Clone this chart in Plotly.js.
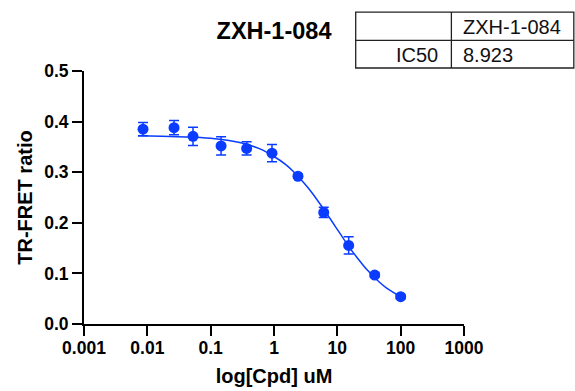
<!DOCTYPE html>
<html>
<head>
<meta charset="utf-8">
<script src="https://cdn.plot.ly/plotly-3.0.1.min.js"></script>
<style>
  html, body { margin: 0; padding: 0; background: #fff; }
  #chart { width: 575px; height: 391px; }
</style>
</head>
<body>
<div id="chart"></div>
<script>
// ---- data ----
const compoundName = "ZXH-1-084";
const concentration = [0.00855, 0.0264, 0.0526, 0.146, 0.37, 0.93, 2.39, 6.1, 15.1, 38.9, 100];
const ratioMean = [0.385, 0.388, 0.371, 0.352, 0.347, 0.3375, 0.292, 0.2205, 0.1553, 0.0967, 0.0539];
const ratioErr = [0.013, 0.014, 0.018, 0.018, 0.013, 0.017, 0.004, 0.010, 0.017, 0.004, 0.004];
const fitX = [0.0071, 0.03, 0.1, 0.3, 0.6, 1, 1.5, 2, 3, 4, 6, 8, 11, 15, 20, 30, 45, 60, 100];
const fitY = [0.372, 0.370, 0.367, 0.358, 0.346, 0.331, 0.316, 0.302, 0.278, 0.259, 0.228, 0.205, 0.179, 0.154, 0.133, 0.106, 0.084, 0.071, 0.054];
const xTickVals = [0.001, 0.01, 0.1, 1, 10, 100, 1000];
const xTickText = ["0.001", "0.01", "0.1", "1", "10", "100", "1000"];
const yTickVals = [0, 0.1, 0.2, 0.3, 0.4, 0.5];
const tableHeader = ["", "ZXH-1-084"];
const tableRowLabel = "IC50";
const tableRowValue = "8.923";

// ---- styling ----
const BLUE = "#0a3cff";
const FONT = "Arial, 'Liberation Sans', sans-serif";

const traces = [
  {
    x: fitX, y: fitY, type: "scatter", mode: "lines",
    line: { color: BLUE, width: 1.5, shape: "spline" },
    hoverinfo: "skip", showlegend: false
  },
  {
    x: concentration, y: ratioMean, type: "scatter", mode: "markers",
    marker: { color: BLUE, size: 11 },
    error_y: { type: "data", array: ratioErr, visible: true, color: BLUE, thickness: 1.5, width: 5 },
    showlegend: false, cliponaxis: false
  }
];

// table geometry (paper coords relative to plot area)
const tL = 0.715, tR = 1.289, tC = 0.9668, tTop = 1.233, tMid = 1.1212, tBot = 1.0118;
const border = { color: "#222", width: 1.3 };
const shapes = [
  { type: "rect", xref: "paper", yref: "paper", x0: tL, x1: tR, y0: tBot, y1: tTop, line: border },
  { type: "line", xref: "paper", yref: "paper", x0: tL, x1: tR, y0: tMid, y1: tMid, line: border },
  { type: "line", xref: "paper", yref: "paper", x0: tC, x1: tC, y0: tBot, y1: tTop, line: border }
];
const tableFont = { family: FONT, size: 20, color: "#111" };
const annotations = [
  { xref: "paper", yref: "paper", x: 0.993, y: 1.1737, xanchor: "left", yanchor: "middle",
    text: tableHeader[1], showarrow: false, font: tableFont },
  { xref: "paper", yref: "paper", x: 0.9358, y: 1.062, xanchor: "right", yanchor: "middle",
    text: tableRowLabel, showarrow: false, font: tableFont },
  { xref: "paper", yref: "paper", x: 0.993, y: 1.062, xanchor: "left", yanchor: "middle",
    text: tableRowValue, showarrow: false, font: tableFont }
];

const layout = {
  width: 575, height: 391,
  margin: { l: 84, r: 111, t: 71, b: 67, pad: 0 },
  paper_bgcolor: "#fff", plot_bgcolor: "#fff",
  font: { family: FONT, color: "#000" },
  title: {
    text: compoundName,
    font: { family: FONT, size: 23.5, weight: "bold", color: "#000" },
    x: 0.5, xref: "paper", xanchor: "center",
    y: 0.922, yref: "container", yanchor: "middle"
  },
  xaxis: {
    type: "log", range: [-3, 3],
    tickvals: xTickVals, ticktext: xTickText,
    showline: true, linecolor: "#000", linewidth: 2,
    ticks: "outside", ticklen: 10, tickwidth: 2, tickcolor: "#000",
    ticklabelstandoff: -3,
    showgrid: false, zeroline: false, automargin: false,
    tickfont: { family: FONT, size: 17.5, weight: "bold", color: "#000" },
    title: { text: "log[Cpd] uM", font: { family: FONT, size: 20, weight: "bold", color: "#000" }, standoff: 12 }
  },
  yaxis: {
    range: [0, 0.5], tickvals: yTickVals, tickformat: ".1f",
    showline: true, linecolor: "#000", linewidth: 2,
    ticks: "outside", ticklen: 10, tickwidth: 2, tickcolor: "#000",
    showgrid: false, zeroline: false, automargin: false,
    tickfont: { family: FONT, size: 17.5, weight: "bold", color: "#000" },
    title: { text: "TR-FRET ratio", font: { family: FONT, size: 20, weight: "bold", color: "#000" }, standoff: 6 }
  },
  shapes: shapes,
  annotations: annotations
};

Plotly.newPlot("chart", traces, layout, { displayModeBar: false, staticPlot: true });
</script>
</body>
</html>
